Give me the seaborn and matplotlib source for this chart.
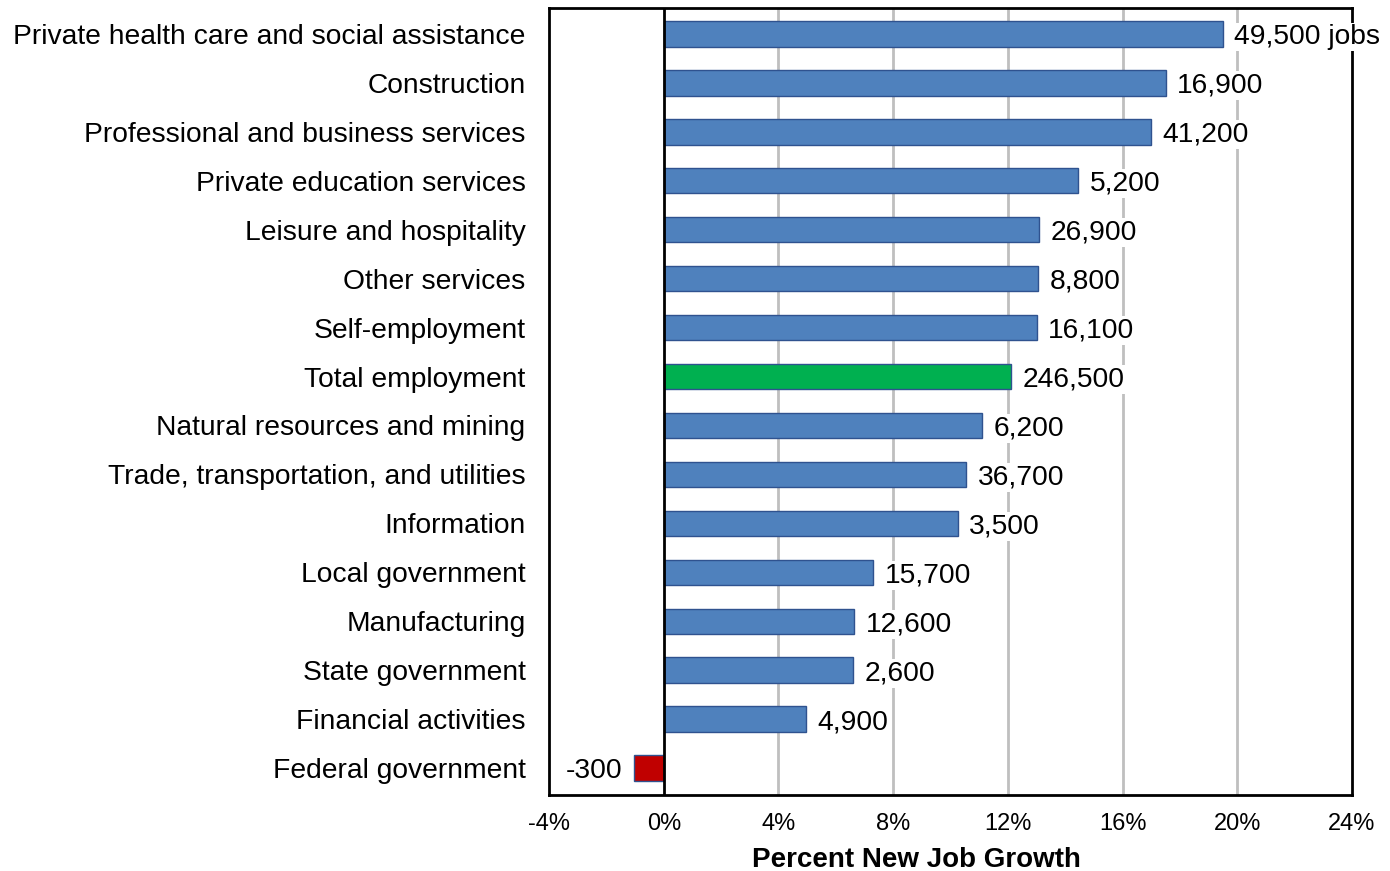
import numpy as np
import pandas as pd
import matplotlib.pyplot as plt
import seaborn as sns
from matplotlib.ticker import PercentFormatter

sns.set_theme(style="white")
plt.rcParams['font.family'] = ['Liberation Sans', 'DejaVu Sans']
plt.rcParams['axes.unicode_minus'] = False
plt.rcParams['text.color'] = 'black'
plt.rcParams['xtick.color'] = 'black'
plt.rcParams['ytick.color'] = 'black'
plt.rcParams['axes.labelcolor'] = 'black'

categorias = [
    'Private health care and social assistance', 'Construction',
    'Professional and business services', 'Private education services',
    'Leisure and hospitality', 'Other services', 'Self-employment',
    'Total employment', 'Natural resources and mining',
    'Trade, transportation, and utilities', 'Information',
    'Local government', 'Manufacturing', 'State government',
    'Financial activities', 'Federal government',
]
crecimiento = [19.5, 17.5, 17.0, 14.45, 13.1, 13.05, 13.0, 12.1, 11.1,
               10.55, 10.25, 7.3, 6.65, 6.6, 4.95, -1.05]
etiquetas = ['49,500 jobs', '16,900', '41,200', '5,200', '26,900', '8,800',
             '16,100', '246,500', '6,200', '36,700', '3,500', '15,700',
             '12,600', '2,600', '4,900', '-300']

azul, verde, rojo = '#4F81BD', '#00B050', '#C00000'
paleta = {c: azul for c in categorias}
paleta['Total employment'] = verde
paleta['Federal government'] = rojo

df = pd.DataFrame({'categoria': categorias, 'valor': crecimiento})

fig = plt.figure(figsize=(13.9, 8.71), dpi=100)
ax = fig.add_axes([0.395, 0.0873, 0.5777, 0.9035])
sns.barplot(data=df, x='valor', y='categoria', hue='categoria', palette=paleta,
            legend=False, orient='h', width=0.52, edgecolor='#2F528F',
            linewidth=1, saturation=1, ax=ax)

ax.set_xlim(-4, 24)
ax.set_ylim(15.55, -0.53)
ax.set_xticks(np.arange(-4, 25, 4))
ax.xaxis.set_major_formatter(PercentFormatter(decimals=0))
for g in range(4, 24, 4):
    ax.axvline(g, color='#BFBFBF', lw=2, zorder=0)
ax.axvline(0, color='black', lw=2, zorder=2)

for s in ax.spines.values():
    s.set_visible(True)
    s.set_color('black')
    s.set_linewidth(2)

ax.tick_params(axis='x', length=0, pad=13, labelsize=17)
ax.tick_params(axis='y', length=0, pad=17, labelsize=20.3)
ax.set_ylabel('')
ax.set_xlabel('Percent New Job Growth', fontsize=20, fontweight='bold')
ax.xaxis.set_label_coords(0.458, -0.066)

for i, (v, t) in enumerate(zip(crecimiento, etiquetas)):
    off = 0.4 if v >= 0 else -0.4
    ax.text(v + off, i, t, ha='left' if v >= 0 else 'right', va='center_baseline',
            fontsize=20.3, clip_on=False, zorder=5,
            bbox=dict(facecolor='white', edgecolor='none', pad=1))

fig.savefig('out.png', dpi=100)
